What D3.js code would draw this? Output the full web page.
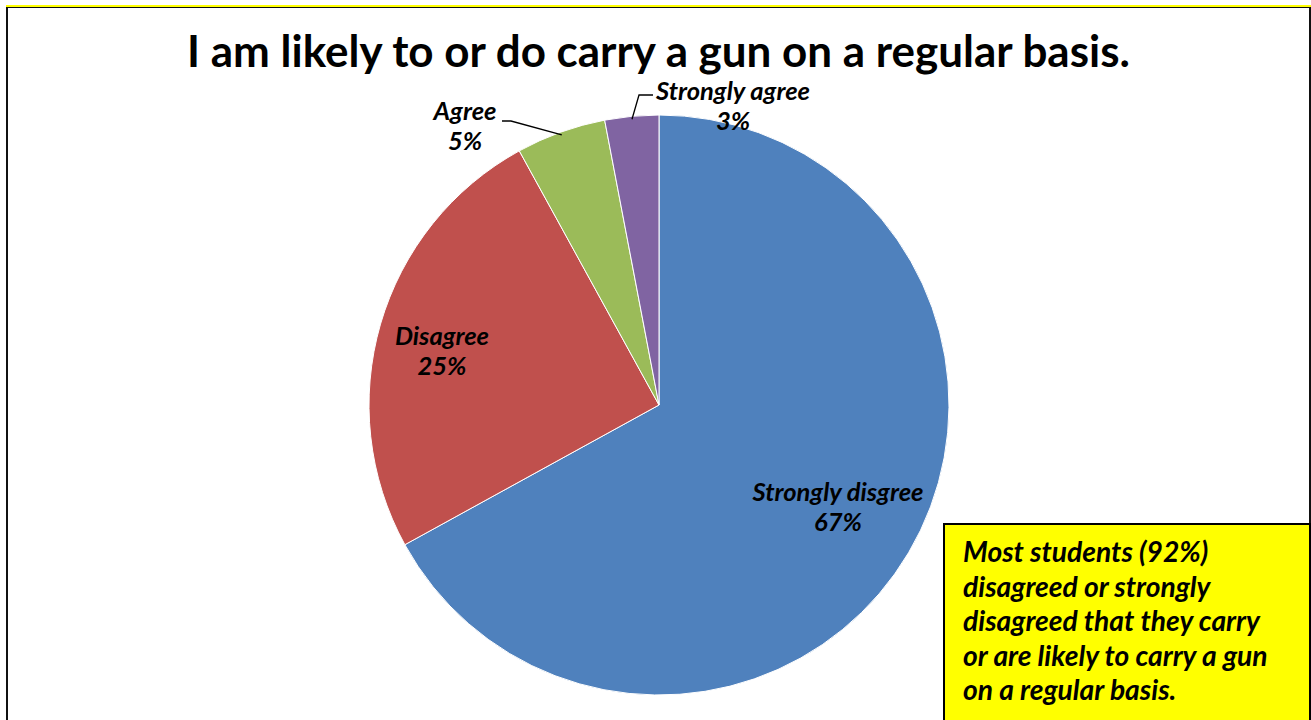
<!DOCTYPE html>
<html>
<head>
<meta charset="utf-8">
<script src="https://cdn.jsdelivr.net/npm/d3@7"></script>
<style>
  html, body { margin: 0; padding: 0; background: #fff; }
  svg { display: block; }
</style>
</head>
<body>
<svg id="chart" width="1311" height="720"></svg>
<script>
// Survey responses, drawn clockwise from 12 o'clock
const categories = ["Strongly disgree", "Disagree", "Agree", "Strongly agree"];
const percents = [67, 25, 5, 3];
const colors = ["#4F81BD", "#C0504D", "#9BBB59", "#8064A2"];
const title = "I am likely to or do carry a gun on a regular basis.";
const noteLines = [
  "Most students (92%)",
  "disagreed or strongly",
  "disagreed that they carry",
  "or are likely to carry a gun",
  "on a regular basis."
];

const FONT = "Lato, 'Open Sans', 'DejaVu Sans', sans-serif";
const svg = d3.select("#chart");
const W = 1311, H = 720;

// Scale a text element's font size so it spans the wanted width
function fitWidth(sel, width) {
  const base = 20;
  sel.attr("font-size", base);
  const len = sel.node().getComputedTextLength();
  const size = base * width / len;
  sel.attr("font-size", size);
  return size;
}

// Outer frame
svg.append("rect").attr("x", 7).attr("y", 7).attr("width", 1303).attr("height", H)
  .attr("fill", "#fff").attr("stroke", "#111").attr("stroke-width", 2);
svg.append("rect").attr("x", 6).attr("y", 5).attr("width", W - 6).attr("height", 2)
  .attr("fill", "#FFFF00");

// Title
const t = svg.append("text")
  .attr("x", 658.5).attr("y", 67)
  .attr("text-anchor", "middle")
  .attr("font-family", FONT).attr("font-weight", "bold")
  .attr("fill", "#000")
  .text(title);
fitWidth(t, 943);

// Pie
const cx = 659, cy = 405, R = 290;
const pie = d3.pie().value(d => d).sort(null);
const arcs = pie(percents);
const arc = d3.arc().innerRadius(0).outerRadius(R);

const g = svg.append("g").attr("transform", `translate(${cx},${cy})`);
g.selectAll("path.slice")
  .data(arcs)
  .join("path")
  .attr("class", "slice")
  .attr("d", arc)
  .attr("fill", (d, i) => colors[i])
  .attr("stroke", "#fff")
  .attr("stroke-width", 1);

// Label placements: large slices are labelled inside, small slices get callouts
const labelLayout = [
  { pos: [838, 501] },
  { pos: [442, 345] },
  { pos: [465, 120], leader: [[502, 121], [511, 121]] },
  { pos: [733, 100], leader: [[653, 95], [639, 95]] }
];

const lineGap = 30;
const labelSize = (() => {
  const probe = svg.append("text")
    .attr("font-family", FONT).attr("font-weight", "bold").attr("font-style", "italic")
    .text(categories[0]);
  const s = fitWidth(probe, 171);
  probe.remove();
  return s;
})();

arcs.forEach((d, i) => {
  const L = labelLayout[i];
  if (L.leader) {
    const mid = (d.startAngle + d.endAngle) / 2;
    const edge = [cx + (R - 3) * Math.sin(mid), cy - (R - 3) * Math.cos(mid)];
    const pts = L.leader.concat([edge]);
    svg.append("path")
      .attr("d", d3.line()(pts))
      .attr("fill", "none").attr("stroke", "#000").attr("stroke-width", 1.3);
  }
  const txt = svg.append("text")
    .attr("text-anchor", "middle")
    .attr("font-family", FONT).attr("font-weight", "bold").attr("font-style", "italic")
    .attr("font-size", labelSize)
    .attr("fill", "#000");
  txt.append("tspan").attr("x", L.pos[0]).attr("y", L.pos[1]).text(categories[i]);
  txt.append("tspan").attr("x", L.pos[0]).attr("y", L.pos[1] + lineGap).text(percents[i] + "%");
});

// Yellow note box
svg.append("rect").attr("x", 944).attr("y", 524).attr("width", 366).attr("height", 210)
  .attr("fill", "#FFFF00").attr("stroke", "#000").attr("stroke-width", 2);

const note = svg.append("text")
  .attr("font-family", FONT).attr("font-weight", "bold").attr("font-style", "italic")
  .attr("fill", "#000");
const probeLine = svg.append("text")
  .attr("font-family", FONT).attr("font-weight", "bold").attr("font-style", "italic")
  .text(noteLines[2]);
const noteSize = fitWidth(probeLine, 297);
probeLine.remove();
note.attr("font-size", noteSize);
noteLines.forEach((line, i) => {
  note.append("tspan").attr("x", 963).attr("y", 562 + i * 34.6).text(line);
});
</script>
</body>
</html>
